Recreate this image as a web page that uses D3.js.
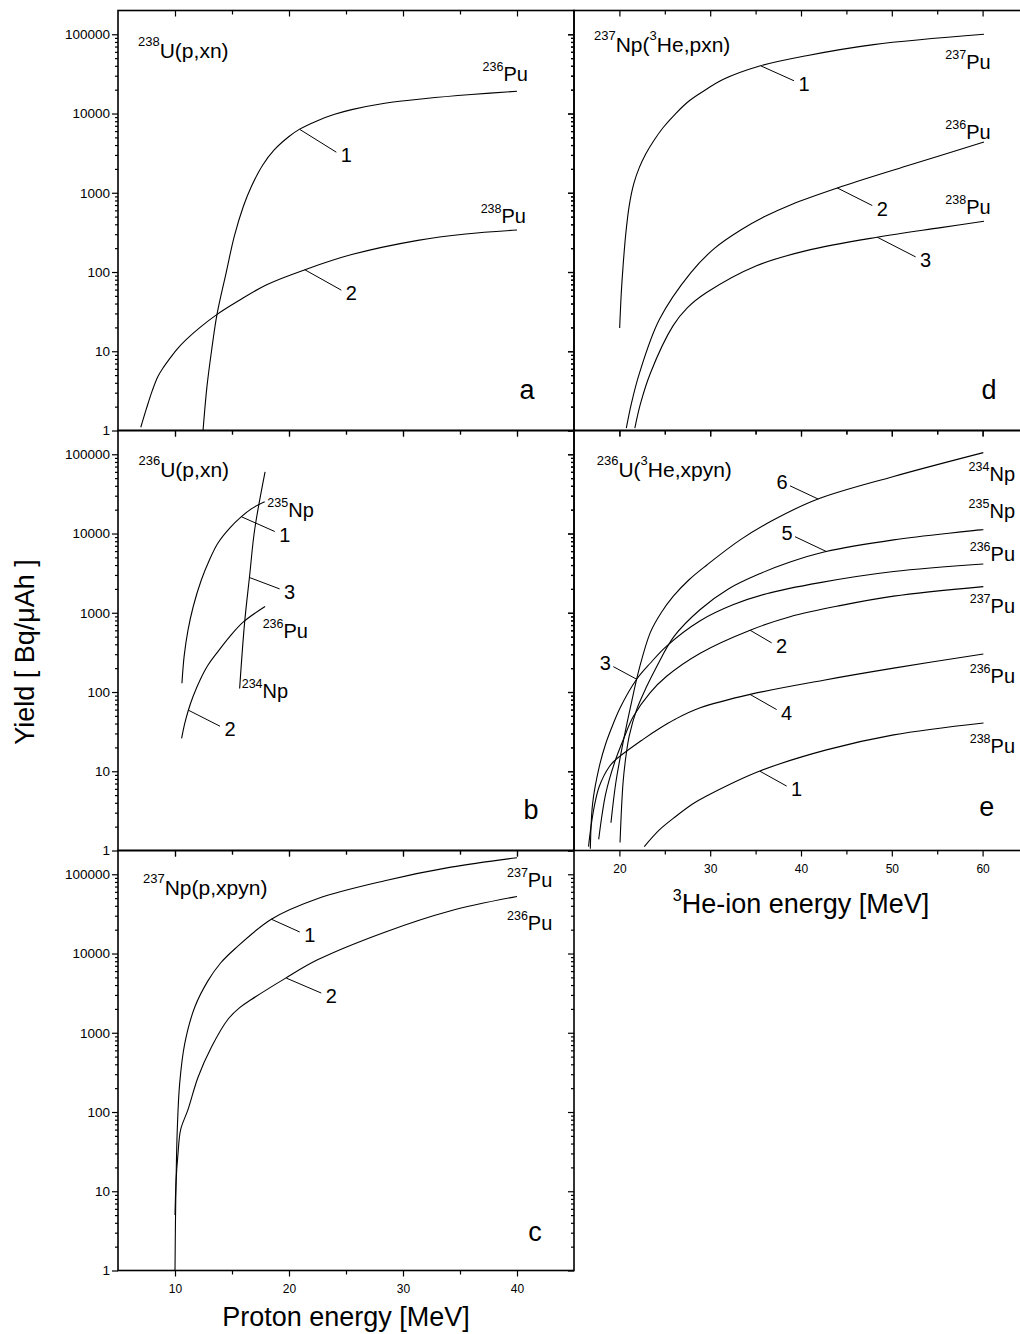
<!DOCTYPE html>
<html>
<head>
<meta charset="utf-8">
<script src="https://cdn.jsdelivr.net/npm/d3@7"></script>
<style>
  body { margin: 0; background: #fff; }
  svg { display: block; }
</style>
</head>
<body>
<svg id="chart" width="1020" height="1334"></svg>
<script>
// ---- data (energy in MeV, yield in Bq/uAh) ----

// a: 238U(p,xn)
var a1E = [12.46, 12.8, 13.2, 13.68, 14.5, 15.2, 16.0, 16.7, 17.7, 18.7, 20.0, 20.9, 22.5, 24.0, 25.5, 28.4, 32, 36, 40]
var a1Y = [1, 3.55, 10, 29, 100, 282, 676, 1200, 2240, 3470, 5130, 6310, 8130, 9770, 11200, 13500, 15500, 17400, 19100]
var a2E = [7.0, 7.5, 8.0, 8.5, 9.0, 9.5, 10.15, 11.0, 12.2, 13.66, 15.5, 18.04, 21.4, 25.5, 31.3, 35.5, 40]
var a2Y = [1.1, 1.9, 3.16, 4.79, 6.31, 7.94, 10.5, 14.1, 20, 29, 42.7, 69.2, 107, 166, 251, 302, 339]

// b: 236U(p,xn)
var b1E = [10.61, 10.8, 11.14, 11.6, 12.3, 13.0, 13.77, 14.8, 15.8, 16.8, 17.87]
var b1Y = [129, 282, 603, 1200, 2570, 4570, 7590, 11700, 16200, 20900, 25100]
var b2E = [10.58, 10.85, 11.17, 11.6, 12.19, 12.9, 13.66, 14.8, 16.0, 17.9]
var b2Y = [26, 39.8, 58.9, 89.1, 141, 219, 309, 501, 767, 1200]
var b3E = [15.67, 16.1, 16.55, 16.98, 17.9]
var b3Y = [111, 735, 2970, 11000, 60000]

// c: 237Np(p,xpyn)
var c1E = [10.0, 10.04, 10.1, 10.2, 10.41, 10.85, 11.73, 12.9, 14.0, 15.24, 18.45, 22.54, 28.4, 34.2, 40]
var c1Y = [1, 4, 15, 60, 230, 725, 2100, 4550, 7590, 11400, 27100, 49500, 83000, 123000, 162000]
var c2E = [10.0, 10.1, 10.25, 10.5, 11.14, 12.02, 13.2, 14.65, 15.7, 16.7, 19.6, 22.5, 28.4, 34.2, 40]
var c2Y = [5, 14.1, 28.2, 60.3, 107, 275, 661, 1480, 2090, 2630, 4790, 8320, 18600, 34700, 52500]

// d: 237Np(3He,pxn)
var d1E = [20.03, 20.2, 20.4, 20.7, 21.1, 21.6, 22.2, 22.9, 23.8, 24.8, 26.2, 27.7, 29.5, 31.4, 35.45, 40.6, 48, 60.15]
var d1Y = [19.7, 52.5, 117, 302, 708, 1320, 2090, 3090, 4570, 6610, 10000, 14500, 19950, 26900, 39800, 53700, 74100, 100000]
var d2E = [20.76, 21.3, 22.2, 24.4, 27.85, 30.5, 33.36, 36, 38.9, 44.0, 51.7, 60.15]
var d2Y = [1.07, 2.14, 5.25, 25.1, 97.7, 200, 339, 501, 708, 1150, 2190, 4370]
var d3E = [21.7, 22.3, 23.4, 25.9, 27.5, 29.6, 35.1, 40.6, 48.4, 55.4, 60.15]
var d3Y = [1.07, 2.14, 5.25, 20.9, 35.5, 55, 120, 186, 275, 363, 437]

// e: 236U(3He,xpyn)
var e1E = [22.74, 24.4, 26.2, 28.1, 29.55, 35.4, 42.8, 50.2, 60.1]
var e1Y = [1.12, 1.82, 2.69, 3.89, 4.84, 10, 18.6, 28.8, 40.7]
var e2E = [17.72, 18.5, 19.5, 20.5, 21.53, 23.37, 25.2, 28.9, 34.4, 38.8, 44.3, 50.2, 60.08]
var e2Y = [1.38, 5.25, 13.2, 26.3, 49, 97.7, 158, 309, 603, 891, 1230, 1620, 2140]
var e3E = [16.8, 17.06, 17.79, 18.5, 19.33, 20.07, 21.9, 23.37, 25.2, 28.9, 32.5, 36.2, 42.1, 50.2, 60.08]
var e3Y = [1.05, 4, 11.5, 22.4, 40, 63, 145, 229, 380, 794, 1260, 1740, 2400, 3310, 4120]
var e4E = [16.6, 16.87, 17.24, 17.79, 18.9, 19.63, 22.57, 24.4, 26.2, 28.9, 34.4, 42.5, 50.2, 60.08]
var e4Y = [1.12, 2, 3.63, 6.46, 11.5, 14.1, 25.1, 34.7, 45.7, 63.1, 93.3, 141, 200, 302]
var e5E = [20.07, 20.4, 20.73, 21.09, 21.9, 23.0, 24.1, 26.0, 28.9, 32.0, 35.6, 38.8, 42.64, 50.2, 60.08]
var e5Y = [1.26, 7.1, 15.8, 28.2, 60, 117, 209, 500, 1100, 2000, 3160, 4370, 5890, 8320, 11200]
var e6E = [19.07, 19.6, 20.3, 21.2, 22.2, 23.4, 24.6, 25.94, 27.7, 29.6, 33.3, 36.95, 41.73, 50.2, 60.08]
var e6Y = [2.24, 7.1, 20, 63, 200, 562, 1000, 1620, 2630, 3980, 8320, 14800, 26900, 52500, 105000]

// numbered pointers: [label, E on curve, yield on curve, E end, yield end, side]
var leadA = [["1", 20.94, 6310, 24.15, 3250, "r"], ["2", 21.38, 107, 24.59, 59, "r"]]
var leadB = [["1", 15.82, 16300, 18.75, 10600, "r"], ["3", 16.49, 2800, 19.18, 2000, "r"], ["2", 11.17, 59, 13.95, 37, "r"]]
var leadC = [["1", 18.45, 27100, 20.94, 18700, "r"], ["2", 19.76, 4900, 22.83, 3170, "r"]]
var leadD = [["1", 35.56, 40000, 39.23, 25900, "r"], ["2", 44.0, 1150, 47.85, 690, "r"], ["3", 48.4, 275, 52.63, 155, "r"]]
var leadE = [["6", 41.9, 27200, 38.79, 40000, "l"], ["5", 42.83, 5900, 39.34, 9120, "l"], ["3", 21.9, 145, 19.33, 209, "l"],
             ["2", 34.38, 603, 36.77, 417, "r"], ["4", 34.38, 93.3, 37.32, 60, "r"], ["1", 35.48, 10, 38.42, 6.5, "r"]]

// isotope labels: [mass, element, E, yield (baseline), anchor]
var isoA = [["236", "Pu", 40.96, 25400, "end"], ["238", "Pu", 40.79, 420, "end"]]
var isoB = [["235", "Np", 18.10, 16300, "start"], ["236", "Pu", 17.69, 485, "start"], ["234", "Np", 15.85, 84, "start"]]
var isoC = [["237", "Pu", 43.1, 69000, "end"], ["236", "Pu", 43.1, 19700, "end"]]
var isoD = [["237", "Pu", 60.89, 36700, "end"], ["236", "Pu", 60.89, 4770, "end"], ["238", "Pu", 60.89, 541, "end"]]
var isoE = [["234", "Np", 63.57, 45400, "end"], ["235", "Np", 63.57, 15700, "end"], ["236", "Pu", 63.57, 4450, "end"],
            ["237", "Pu", 63.57, 995, "end"], ["236", "Pu", 63.57, 130, "end"], ["238", "Pu", 63.57, 17, "end"]]

// reaction titles, [text, superscript?]
var titleA = [["238", 1], ["U(p,xn)", 0]]
var titleB = [["236", 1], ["U(p,xn)", 0]]
var titleC = [["237", 1], ["Np(p,xpyn)", 0]]
var titleD = [["237", 1], ["Np(", 0], ["3", 1], ["He,pxn)", 0]]
var titleE = [["236", 1], ["U(", 0], ["3", 1], ["He,xpyn)", 0]]

var yMajor = [1, 10, 100, 1000, 10000, 100000]
var xMajorP = [10, 20, 30, 40], xMinorP = [15, 25, 35]
var xMajorHe = [20, 30, 40, 50, 60], xMinorHe = [25, 35, 45, 55]

// ---- layout ----
var FONT = '"Liberation Sans", Arial, Helvetica, sans-serif'
var svg = d3.select("#chart").attr("font-family", FONT)
var rowTop = [10.5, 430.5, 850.5], panelH = 420

var xLeft = d3.scaleLinear().domain([5, 45]).range([118, 574])
var xRight = d3.scaleLinear().domain([15, 65]).range([574, 1028])

var yMinor = []
for (var dec = 0; dec < 6; dec++)
    for (var k = 2; k <= 9; k++)
        if (k * Math.pow(10, dec) < Math.pow(10, 5.3)) yMinor.push(k * Math.pow(10, dec))

var panels = [
    {key: "a", col: 0, row: 0, curves: [[a1E, a1Y], [a2E, a2Y]], lead: leadA, iso: isoA, title: titleA, tx: 20, ty: 47.5, lx: 409, ly: 388.5},
    {key: "b", col: 0, row: 1, curves: [[b1E, b1Y], [b2E, b2Y], [b3E, b3Y]], lead: leadB, iso: isoB, title: titleB, tx: 20.5, ty: 46.2, lx: 413, ly: 388.5},
    {key: "c", col: 0, row: 2, curves: [[c1E, c1Y], [c2E, c2Y]], lead: leadC, iso: isoC, title: titleC, tx: 25, ty: 44.5, lx: 417, ly: 390.5, xLabels: true},
    {key: "d", col: 1, row: 0, curves: [[d1E, d1Y], [d2E, d2Y], [d3E, d3Y]], lead: leadD, iso: isoD, title: titleD, tx: 20, ty: 41.2, lx: 415, ly: 388.5},
    {key: "e", col: 1, row: 1, curves: [[e1E, e1Y], [e2E, e2Y], [e3E, e3Y], [e4E, e4Y], [e5E, e5Y], [e6E, e6Y]], lead: leadE, iso: isoE, title: titleE, tx: 22.7, ty: 46.2, lx: 412.7, ly: 385.2, xLabels: true}
]

function richText(sel, parts, size, supSize, raise) {
    var up = false
    parts.forEach(function(p) {
        var t = sel.append("tspan").text(p[0]).attr("font-size", p[1] ? supSize : size)
        if (p[1] && !up) { t.attr("dy", -raise); up = true }
        else if (!p[1] && up) { t.attr("dy", raise); up = false }
    })
}

function styleAxis(g, size) {
    g.attr("font-family", FONT).attr("font-size", size)
    g.select(".domain").remove()
    g.selectAll(".tick line").attr("stroke", "#000").attr("stroke-width", 1.2)
    g.selectAll(".tick text").attr("fill", "#000")
}

panels.forEach(function(p) {
    var x = p.col == 0 ? xLeft : xRight
    var top = rowTop[p.row], bottom = top + panelH
    var y = d3.scaleLog().domain([1, Math.pow(10, 5.3)]).range([bottom, top])
    var x0 = x.range()[0], x1 = x.range()[1]
    var xMaj = p.col == 0 ? xMajorP : xMajorHe
    var xMin = p.col == 0 ? xMinorP : xMinorHe
    var g = svg.append("g").attr("class", "panel-" + p.key)

    // vertical axes (ticks all point left, as in the original)
    g.append("g").attr("transform", "translate(" + x0 + ",0)")
        .call(d3.axisLeft(y).tickValues(yMajor).tickSize(6).tickPadding(2)
            .tickFormat(p.col == 0 ? d3.format("d") : ""))
        .call(styleAxis, 13.5)
    g.append("g").attr("transform", "translate(" + x0 + ",0)")
        .call(d3.axisLeft(y).tickValues(yMinor).tickSize(3).tickFormat(""))
        .call(styleAxis, 10)
    g.append("g").attr("transform", "translate(" + x1 + ",0)")
        .call(d3.axisLeft(y).tickValues(yMajor).tickSize(6).tickFormat(""))
        .call(styleAxis, 10)
    g.append("g").attr("transform", "translate(" + x1 + ",0)")
        .call(d3.axisLeft(y).tickValues(yMinor).tickSize(3).tickFormat(""))
        .call(styleAxis, 10)

    // horizontal axes (ticks point down)
    ;[top, bottom].forEach(function(yy, i) {
        var labels = i == 1 && p.xLabels
        g.append("g").attr("transform", "translate(0," + yy + ")")
            .call(d3.axisBottom(x).tickValues(xMaj).tickSize(6).tickPadding(8)
                .tickFormat(labels ? d3.format("d") : ""))
            .call(styleAxis, 12)
        g.append("g").attr("transform", "translate(0," + yy + ")")
            .call(d3.axisBottom(x).tickValues(xMin).tickSize(4).tickFormat(""))
            .call(styleAxis, 10)
    })

    g.append("rect")
        .attr("x", x0).attr("y", top)
        .attr("width", x1 - x0).attr("height", panelH)
        .attr("fill", "none").attr("stroke", "#000").attr("stroke-width", 1.6)

    var line = d3.line()
        .x(function(d) { return x(d[0]) })
        .y(function(d) { return y(d[1]) })
        .curve(d3.curveCatmullRom.alpha(0.5))

    g.selectAll("path.curve")
        .data(p.curves)
        .enter()
        .append("path")
        .attr("class", "curve")
        .attr("d", function(c) { return line(d3.zip(c[0], c[1])) })
        .attr("fill", "none")
        .attr("stroke", "#000")
        .attr("stroke-width", 1.1)

    // numbered pointers
    p.lead.forEach(function(l) {
        var ex = x(l[3]), ey = y(l[4])
        g.append("line")
            .attr("x1", x(l[1])).attr("y1", y(l[2]))
            .attr("x2", ex).attr("y2", ey)
            .attr("stroke", "#000").attr("stroke-width", 1)
        g.append("text")
            .attr("x", l[5] == "r" ? ex + 10 : ex - 8)
            .attr("y", l[5] == "r" ? ey + 10 : ey + 3)
            .attr("text-anchor", "middle")
            .attr("font-size", 20)
            .text(l[0])
    })

    // isotope labels
    p.iso.forEach(function(s) {
        var t = g.append("text")
            .attr("x", x(s[2])).attr("y", y(s[3]))
            .attr("text-anchor", s[4])
        richText(t, [[s[0], 1], [s[1], 0]], 20, 12.5, 10)
    })

    // reaction title
    var tt = g.append("text").attr("x", x0 + p.tx).attr("y", top + p.ty)
    richText(tt, p.title, 21, 13, 12)

    // panel letter
    g.append("text")
        .attr("x", x0 + p.lx).attr("y", top + p.ly)
        .attr("text-anchor", "middle")
        .attr("font-size", 27)
        .text(p.key)
})

// axis titles
svg.append("text")
    .attr("x", 346).attr("y", 1326)
    .attr("text-anchor", "middle")
    .attr("font-size", 27)
    .text("Proton energy [MeV]")

var heTitle = svg.append("text")
    .attr("x", 801).attr("y", 913)
    .attr("text-anchor", "middle")
    .attr("font-size", 27)
richText(heTitle, [["3", 1], ["He-ion energy [MeV]", 0]], 27, 16, 12)

svg.append("text")
    .attr("transform", "translate(33.5,652) rotate(-90)")
    .attr("text-anchor", "middle")
    .attr("font-size", 27)
    .text("Yield [ Bq/\u03bcAh ]")
</script>
</body>
</html>
